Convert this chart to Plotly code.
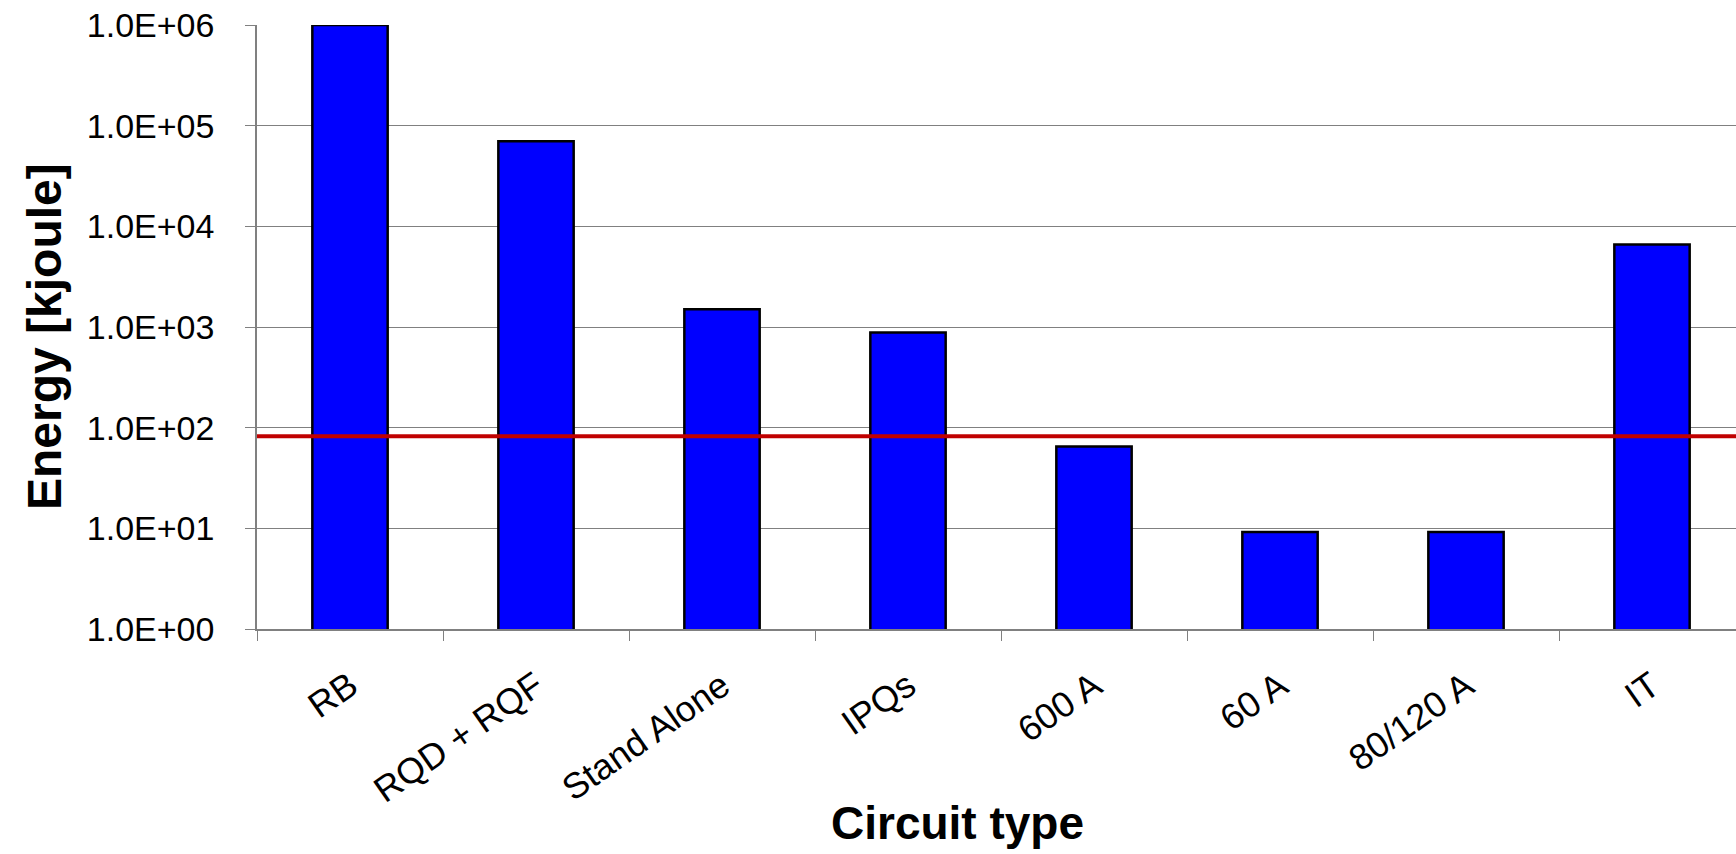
import plotly.graph_objects as go

categories = ["RB", "RQD + RQF", "Stand Alone", "IPQs", "600 A", "60 A", "80/120 A", "IT"]
energy_kj = [1.0e6, 7.0e4, 1.5e3, 880, 65, 9.2, 9.2, 6.6e3]
limit_kj = 82
y_tickvals = [1, 10, 100, 1e3, 1e4, 1e5, 1e6]
y_ticktext = ["1.0E+00", "1.0E+01", "1.0E+02", "1.0E+03", "1.0E+04", "1.0E+05", "1.0E+06"]

W, H = 1736, 854
PL, PT, PB = 257, 25, 629        # plot area edges in window pixels
L, T, B = PL, PT, H - PB
cat_px = 186.0
plot_w = W - L
plot_h = H - T - B
x_max = -0.5 + plot_w / cat_px

FONT = "Liberation Sans, Arial, sans-serif"

fig = go.Figure()
fig.add_trace(go.Bar(
    x=categories, y=energy_kj,
    marker=dict(color="#0000FF", line=dict(color="black", width=2.5)),
    width=0.405,
    showlegend=False,
))
fig.add_hline(y=limit_kj, line=dict(color="#C00000", width=4), layer="above")

fig.update_layout(
    width=W, height=H,
    margin=dict(l=L, r=0, t=T, b=B, pad=0),
    paper_bgcolor="white", plot_bgcolor="white",
    font=dict(family=FONT, color="black"),
    showlegend=False,
)
fig.update_xaxes(
    type="category",
    range=[-0.5, x_max],
    showline=True, linecolor="#808080", linewidth=1.5,
    ticks="outside", ticklen=10, tickcolor="#808080", tickwidth=1,
    tickson="boundaries",
    tickangle=-35,
    tickfont=dict(size=36, family=FONT),
    ticklabelstandoff=20,
    showgrid=False,
)
fig.update_yaxes(
    type="log", range=[0, 6],
    tickvals=y_tickvals, ticktext=y_ticktext,
    showline=True, linecolor="#808080", linewidth=1.5,
    ticks="outside", ticklen=10, tickcolor="#808080",
    tickfont=dict(size=34, family=FONT),
    ticklabelstandoff=24,
    showgrid=True, gridcolor="#808080", gridwidth=1.2,
    zeroline=False,
)
fig.add_annotation(
    text="<b>Energy [kjoule]</b>", textangle=-90,
    xref="paper", yref="paper",
    x=-(PL - 44) / plot_w, y=1 - (336 - PT) / plot_h,
    xanchor="center", yanchor="middle", showarrow=False,
    font=dict(size=48, family=FONT, color="black"),
)
fig.add_annotation(
    text="<b>Circuit type</b>",
    xref="paper", yref="paper",
    x=(957 - PL) / plot_w, y=-(823 - PB) / plot_h,
    xanchor="center", yanchor="middle", showarrow=False,
    font=dict(size=46, family=FONT, color="black"),
)

fig.write_html(
    "out.html",
    config={"displayModeBar": False},
    post_script="document.body.style.margin='0px';",
)
